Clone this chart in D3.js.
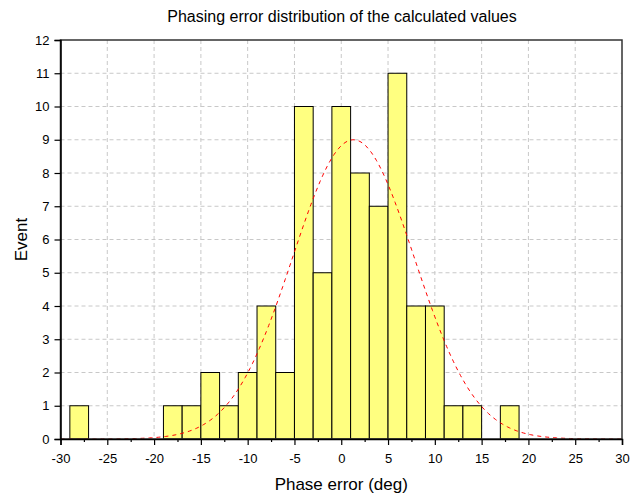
<!DOCTYPE html>
<html lang="en">
<head>
    <meta charset="UTF-8" />
    <title>Phasing error distribution</title>
    <style>
        body, html { margin: 0; padding: 0; background: white; }
        svg { display: block; font-family: "Liberation Sans", Arial, sans-serif; }
    </style>
</head>
<body>
    <svg id="svg" width="642" height="497"></svg>
    <script src="https://cdn.jsdelivr.net/npm/d3@7"></script>
    <script>
        // histogram bins (2 deg wide, left edges) and counts
        const binStarts = [-29, -27, -25, -23, -21, -19, -17, -15, -13, -11, -9, -7, -5, -3, -1, 1, 3, 5, 7, 9, 11, 13, 15, 17];
        const counts    = [  1,   0,   0,   0,   0,   1,   1,   2,   1,   2,  4,  2, 10,  5, 10, 8, 7, 11, 4, 4,  1,  1,  0,  1];
        const binWidth = 2;

        // normal fit
        const fitPeak = 9.0, fitMean = 1.3, fitSigma = 6.5;

        const xTicks = [-30, -25, -20, -15, -10, -5, 0, 5, 10, 15, 20, 25, 30];
        const yTicks = [0, 1, 2, 3, 4, 5, 6, 7, 8, 9, 10, 11, 12];

        const margin = { top: 40, right: 20, bottom: 58, left: 60.5 };
        const width = 642 - margin.left - margin.right;
        const height = 497 - margin.top - margin.bottom;

        const svg = d3.select("#svg")
            .append("g")
            .attr("transform", `translate(${margin.left},${margin.top})`);

        const x = d3.scaleLinear().domain([-30, 30]).range([0, width]);
        const y = d3.scaleLinear().domain([0, 12]).range([height, 0]);

        // grid
        svg.append("g")
            .selectAll("line")
            .data(xTicks.slice(1, -1))
            .enter().append("line")
            .attr("x1", d => x(d)).attr("x2", d => x(d))
            .attr("y1", 0).attr("y2", height)
            .attr("stroke", "#c8c8c8").attr("stroke-dasharray", "4,3");
        svg.append("g")
            .selectAll("line")
            .data(yTicks.slice(1, -1))
            .enter().append("line")
            .attr("x1", 0).attr("x2", width)
            .attr("y1", d => y(d)).attr("y2", d => y(d))
            .attr("stroke", "#c8c8c8").attr("stroke-dasharray", "4,3");

        // bars
        const bins = binStarts.map((s, i) => ({ x0: s, x1: s + binWidth, n: counts[i] })).filter(d => d.n > 0);
        svg.selectAll("rect.bar")
            .data(bins)
            .enter().append("rect")
            .attr("class", "bar")
            .attr("x", d => x(d.x0))
            .attr("width", d => x(d.x1) - x(d.x0))
            .attr("y", d => y(d.n))
            .attr("height", d => y(0) - y(d.n))
            .attr("fill", "#ffff80")
            .attr("stroke", "#000")
            .attr("stroke-width", 1);

        // fit curve
        const curve = d3.range(-30, 30.01, 0.25).map(v => [v, fitPeak * Math.exp(-((v - fitMean) ** 2) / (2 * fitSigma * fitSigma))]);
        svg.append("path")
            .datum(curve)
            .attr("fill", "none")
            .attr("stroke", "#ff0000")
            .attr("stroke-width", 1)
            .attr("stroke-dasharray", "4,4")
            .attr("d", d3.line().x(d => x(d[0])).y(d => y(d[1])));

        // frame (top/right)
        svg.append("rect")
            .attr("x", 0).attr("y", 0).attr("width", width).attr("height", height)
            .attr("fill", "none").attr("stroke", "#333").attr("stroke-width", 1.5);

        // plain hyphen for negatives, like the original
        const fmt = d => String(d);

        // x axis: major ticks every 5, minor every 2.5
        const xAxis = svg.append("g")
            .attr("transform", `translate(0,${height})`)
            .call(d3.axisBottom(x).tickValues(xTicks).tickSize(6).tickPadding(9).tickFormat(fmt));
        svg.append("g")
            .attr("transform", `translate(0,${height})`)
            .call(d3.axisBottom(x).tickValues(xTicks.slice(0, -1).map(d => d + 2.5)).tickSize(3).tickFormat(""))
            .select(".domain").remove();

        const yAxis = svg.append("g")
            .call(d3.axisLeft(y).tickValues(yTicks).tickSize(6).tickPadding(5).tickFormat(fmt));

        [xAxis, yAxis].forEach(a => {
            a.select(".domain").attr("stroke", "#000").attr("stroke-width", 1.5);
            a.selectAll(".tick text").attr("font-size", 13).attr("fill", "#000")
                .attr("font-family", "'Liberation Sans', Arial, sans-serif");
        });
        svg.selectAll(".tick line").attr("stroke", "#000").attr("stroke-width", 1.2);

        // titles
        d3.select("#svg").append("text")
            .attr("x", 342).attr("y", 22)
            .attr("text-anchor", "middle")
            .attr("font-size", 16)
            .text("Phasing error distribution of the calculated values");

        d3.select("#svg").append("text")
            .attr("x", margin.left + width / 2).attr("y", 490)
            .attr("text-anchor", "middle")
            .attr("font-size", 17)
            .text("Phase error (deg)");

        d3.select("#svg").append("text")
            .attr("transform", `translate(27,${margin.top + height / 2}) rotate(-90)`)
            .attr("text-anchor", "middle")
            .attr("font-size", 17)
            .text("Event");
    </script>
</body>
</html>
